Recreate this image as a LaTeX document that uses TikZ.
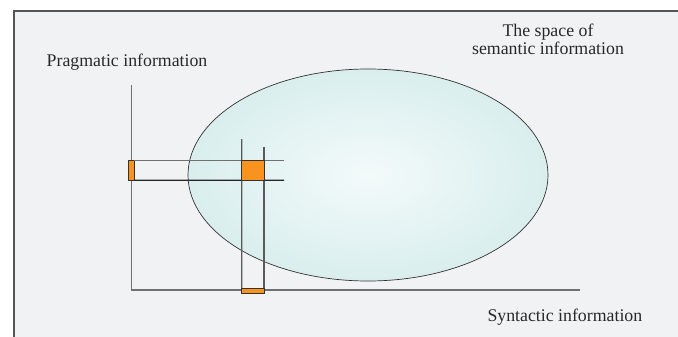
\documentclass[tikz,border=0pt]{standalone}
\usepackage{fontspec}
\setmainfont{Liberation Serif}
\usetikzlibrary{shapes.geometric,positioning}
\definecolor{frameGray}{RGB}{85,85,85}
\definecolor{paperGray}{RGB}{241,242,244}
\definecolor{axisGray}{RGB}{112,112,112}
\definecolor{markOrange}{RGB}{247,147,30}
\definecolor{spaceIn}{RGB}{243,250,250}
\definecolor{spaceOut}{RGB}{194,227,227}
\definecolor{textDark}{RGB}{40,40,40}
\pgfdeclareradialshading{spaceglow}{\pgfpoint{0bp}{0bp}}{color(0bp)=(spaceIn); color(48bp)=(spaceOut); color(50bp)=(spaceOut)}
\tikzset{
  axislabel/.style={font=\fontsize{17.8}{18.3}\selectfont, text=textDark, inner sep=0pt},
  axisline/.style={draw=axisGray, line width=1.4pt},
  markbox/.style={rectangle, fill=markOrange, draw=black!80, line width=0.9pt, inner sep=0pt, outer sep=0pt}
}

\begin{document}
\begin{tikzpicture}[x=1pt,y=-1pt]
        \useasboundingbox (0,0) rectangle (678,337);
        % Paper and frame
        \fill[paperGray] (14,11) rectangle (678,337);
        \draw[frameGray, line width=1.5pt] (14,337) -- (14,11) -- (678,11);
        % Semantic space
        \node[ellipse, draw=black!80, line width=0.7pt, shading=spaceglow,
          minimum width=360pt, minimum height=212pt, inner sep=0pt] (space) at (368,175) {};
        % Axes
        \coordinate (origin) at (131.5,290);
        \coordinate (ytop) at (131.5,85);
        \coordinate (xend) at (580,290);
        \draw[axisline] (ytop) -- (origin) -- (xend);
        % Marks
        \node[markbox, minimum width=6pt, minimum height=19.8pt] (pmark) at (131.3,170.4) {};
        \node[markbox, minimum width=22.3pt, minimum height=5pt] (xmark) at (252.85,290.8) {};
        % Bands
        \coordinate (htop) at (284,160.5);
        \coordinate (hbot) at (284,180.3);
        \coordinate (vleft) at (241.7,139);
        \coordinate (vright) at (264,147);
        \draw[axisGray, line width=1.2pt] (pmark.north east) -- (htop);
        \draw[black!85, line width=1.2pt] (pmark.south east) -- (hbot);
        \draw[black!65, line width=1.2pt] (vleft) -- (xmark.north west);
        \draw[black!65, line width=1.2pt] (vright) -- (xmark.north east);
        \node[markbox, minimum width=22.3pt, minimum height=19.8pt] (smark) at (252.85,170.4) {};
        % Labels
        \node[axislabel, anchor=base west] (prag) at (46.5,66.5) {Pragmatic information};
        \node[axislabel, anchor=base, align=center] (sem) at (548,55) {The space of\\semantic information};
        \node[axislabel, anchor=base west] (synt) at (487.3,321) {Syntactic information};
      \end{tikzpicture}
\end{document}
